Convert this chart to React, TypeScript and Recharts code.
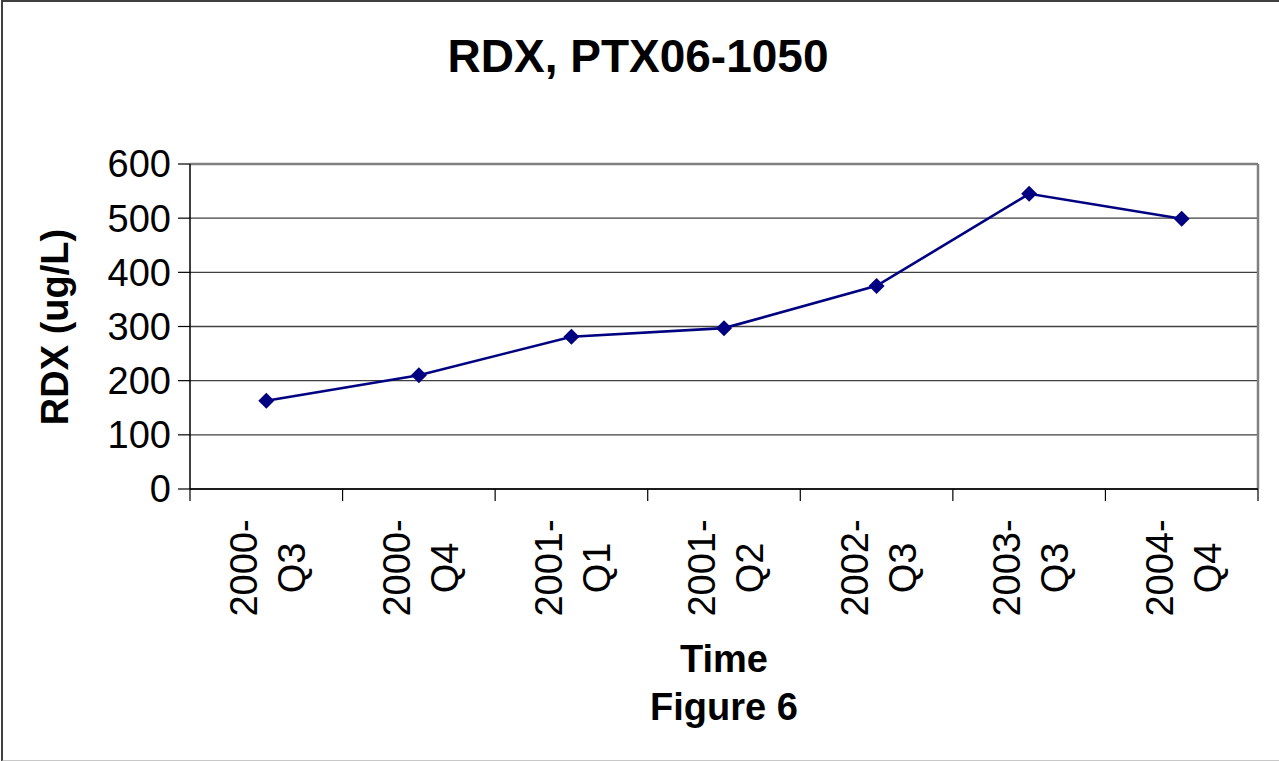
import { LineChart, Line, XAxis, YAxis, CartesianGrid } from "recharts"

const quarters = ["2000-Q3", "2000-Q4", "2001-Q1", "2001-Q2", "2002-Q3", "2003-Q3", "2004-Q4"]
const rdx = [163, 210, 281, 297, 375, 545, 499]
const yTicks = [0, 100, 200, 300, 400, 500, 600]

const data = quarters.map((q, i) => ({ time: q, rdx: rdx[i] }))

const font = "'Liberation Sans', Arial, sans-serif"
const navy = "#000080"

function Diamond(props: any) {
  const { cx, cy } = props
  if (cx == null || cy == null) return null
  const r = 8
  return (
    <polygon
      points={`${cx},${cy - r} ${cx + r},${cy} ${cx},${cy + r} ${cx - r},${cy}`}
      fill={navy}
      stroke="none"
    />
  )
}

function QuarterTick(props: any) {
  const { x, y, payload, index } = props
  const half = payload.offset || 0
  const lines = String(payload.value).replace("-", "-\n").split("\n")
  return (
    <g>
      <line x1={x - half} y1={y} x2={x - half} y2={y + 12} stroke="#000" strokeWidth={1.2} />
      {index === quarters.length - 1 && (
        <line x1={x + half} y1={y} x2={x + half} y2={y + 12} stroke="#000" strokeWidth={1.2} />
      )}
      {lines.map((t, i) => (
        <text
          key={i}
          transform={`translate(${x - 9 + i * 48}, ${y + 79}) rotate(-90)`}
          textAnchor="middle"
          fontSize={38}
          fontFamily={font}
          fill="#000"
        >
          {t}
        </text>
      ))}
    </g>
  )
}

export default function App() {
  return (
    <div
      style={{
        position: "absolute",
        left: 0,
        top: 0,
        width: 1279,
        height: 761,
        background: "#fff",
      }}
    >
      <div
        style={{
          position: "absolute",
          left: 1,
          top: 0,
          width: 1290,
          height: 758,
          borderLeft: "2px solid #404040",
          borderTop: "2px solid #404040",
          borderBottom: "2px solid #c8c8c8",
        }}
      />
      <LineChart
        width={1279}
        height={761}
        data={data}
        margin={{ top: 164, right: 21, bottom: 92, left: 90 }}
        style={{ position: "absolute", left: 0, top: 0 }}
      >
        <CartesianGrid vertical={false} stroke="#404040" strokeWidth={1.3} />
        <CartesianGrid
          horizontalCoordinatesGenerator={({ offset }: any) => [offset.top]}
          verticalCoordinatesGenerator={({ offset }: any) => [offset.left + offset.width]}
          stroke="#808080"
          strokeWidth={2.5}
        />
        <XAxis
          dataKey="time"
          scale="band"
          height={180}
          axisLine={{ stroke: "#000", strokeWidth: 1.5 }}
          tickLine={false}
          tickSize={0}
          tickMargin={0}
          interval={0}
          tick={<QuarterTick />}
        />
        <YAxis
          domain={[0, 600]}
          ticks={yTicks}
          width={100}
          axisLine={{ stroke: "#000", strokeWidth: 1.5 }}
          tickLine={{ stroke: "#000", strokeWidth: 1.2 }}
          tickSize={12}
          tickMargin={7}
          tick={{ fontSize: 38, fontFamily: font, fill: "#000" }}
        />
        <Line
          dataKey="rdx"
          stroke={navy}
          strokeWidth={2.6}
          dot={<Diamond />}
          activeDot={false}
          isAnimationActive={false}
        />
      </LineChart>
      <svg
        width={1279}
        height={761}
        style={{ position: "absolute", left: 0, top: 0, pointerEvents: "none" }}
        fontFamily={font}
        fontWeight="bold"
      >
        <text x={638} y={72} textAnchor="middle" fontSize={46}>
          RDX, PTX06-1050
        </text>
        <text transform="translate(68, 327) rotate(-90)" textAnchor="middle" fontSize={38}>
          RDX (ug/L)
        </text>
        <text x={724} y={672} textAnchor="middle" fontSize={38}>
          Time
        </text>
        <text x={724} y={720} textAnchor="middle" fontSize={38}>
          Figure 6
        </text>
      </svg>
    </div>
  )
}
